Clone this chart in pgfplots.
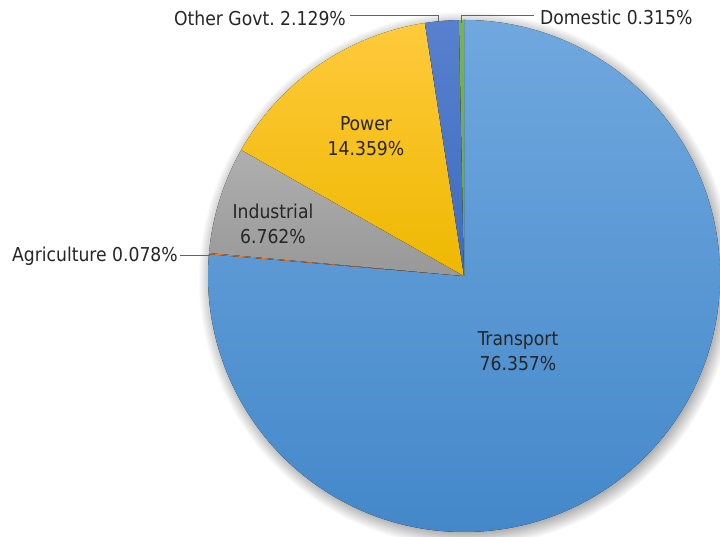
\documentclass[border=0pt]{standalone}
\usepackage{fontspec}
\setmainfont{DejaVu Sans Condensed}
\usepackage{pgfplots}
\usepackage{pgfplotstable}
\pgfplotsset{compat=1.18}
\definecolor{txt}{RGB}{38,38,38}
\definecolor{lead}{RGB}{100,100,100}
% slice colours: top / bottom of gradient
\definecolor{t0}{RGB}{112,168,222}\definecolor{b0}{RGB}{68,136,202}
\definecolor{t1}{RGB}{237,125,49}\definecolor{b1}{RGB}{225,115,40}
\definecolor{t2}{RGB}{175,175,175}\definecolor{b2}{RGB}{152,152,152}
\definecolor{t3}{RGB}{255,202,60}\definecolor{b3}{RGB}{238,184,0}
\definecolor{t4}{RGB}{88,128,206}\definecolor{b4}{RGB}{62,108,192}
\definecolor{t5}{RGB}{120,180,80}\definecolor{b5}{RGB}{104,166,64}
\pgfdeclareradialshading{halo}{\pgfpoint{0bp}{0bp}}{color(0bp)=(black!30); color(23.6bp)=(black!30); color(25bp)=(white)}

\pgfplotstableread[col sep=comma]{
label,value
Transport,76.357
Agriculture,0.078
Industrial,6.762
Power,14.359
Other Govt.,2.129
Domestic,0.315
}\shares

\begin{document}
\begin{tikzpicture}
\begin{axis}[x=1bp,y=1bp,xmin=0,xmax=720,ymin=0,ymax=537,
  enlargelimits=false,hide axis,clip=false]
% soft shadow
\shade[shading=halo] (axis cs:466,258) circle[radius=268bp];
\pgfmathsetmacro\cum{90}
\pgfplotsforeachungrouped \i in {0,...,5}{%
  \pgfplotstablegetelem{\i}{value}\of\shares
  \pgfmathsetmacro\startang{\cum}%
  \pgfmathsetmacro\endang{\cum-3.6*\pgfplotsretval}%
  \edef\cmd{\noexpand\fill[top color=t\i,bottom color=b\i] (axis cs:464,261) -- ++(\startang:256bp) arc[start angle=\startang,end angle=\endang,radius=256bp] -- cycle;}%
  \cmd
  \global\let\cum\endang
}
% leader lines
\draw[lead,line width=0.8bp] (axis cs:350,522) -- (axis cs:438,522) -- (axis cs:438,515);
\draw[lead,line width=0.8bp] (axis cs:461,514) -- (axis cs:461,522) -- (axis cs:534,522);
\draw[lead,line width=0.8bp] (axis cs:180,282) -- (axis cs:210,282);
% labels
\begin{scope}[every node/.style={text=txt,font=\fontsize{19.2}{25}\selectfont,inner sep=0pt,align=center}]
\node at (axis cs:518,186) {Transport\\76.357\%};
\node at (axis cs:366,401) {Power\\14.359\%};
\node at (axis cs:273,313) {Industrial\\6.762\%};
\node[anchor=east] at (axis cs:346,519) {Other Govt.\ 2.129\%};
\node[anchor=west] at (axis cs:540,520) {Domestic 0.315\%};
\node[anchor=east] at (axis cs:178,281) {Agriculture 0.078\%};
\end{scope}
\end{axis}
\pgfresetboundingbox
\useasboundingbox (current axis.south west) rectangle (current axis.north east);
\end{tikzpicture}
\end{document}
